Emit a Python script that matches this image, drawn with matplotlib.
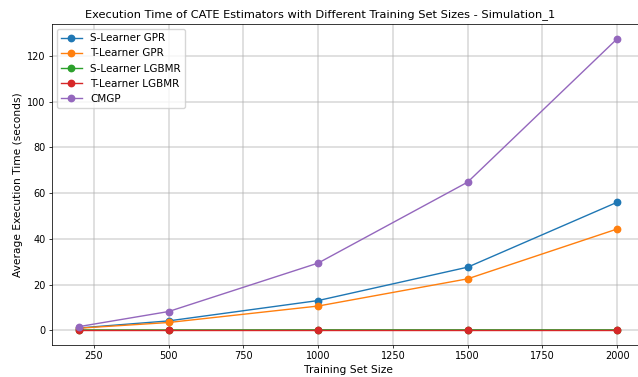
import matplotlib
matplotlib.use("Agg")
import matplotlib.pyplot as plt

sizes = [200, 500, 1000, 1500, 2000]
s_gpr = [1.0, 4.1, 13.0, 27.6, 56.0]
t_gpr = [0.9, 3.4, 10.6, 22.5, 44.3]
s_lgbmr = [0.15, 0.15, 0.2, 0.2, 0.2]
t_lgbmr = [0.1, 0.1, 0.1, 0.1, 0.1]
cmgp = [1.6, 8.2, 29.4, 64.8, 127.5]
labels = ["S-Learner GPR", "T-Learner GPR", "S-Learner LGBMR", "T-Learner LGBMR", "CMGP"]

s = 0.68
fig = plt.figure(figsize=(6.38, 3.77), dpi=100)
ax = fig.add_axes([52/638, 1-344.6/377, (644-52)/638, (344.6-24.3)/377])
for vals, lab in zip([s_gpr, t_gpr, s_lgbmr, t_lgbmr, cmgp], labels):
    ax.plot(sizes, vals, marker="o", label=lab, linewidth=1.0, markersize=4.6)
ax.set_title("Execution Time of CATE Estimators with Different Training Set Sizes - Simulation_1",
             fontsize=8.2, pad=5, x=(320-52)/(644-52))
ax.set_xlabel("Training Set Size", fontsize=7.7, labelpad=2.5)
ax.set_ylabel("Average Execution Time (seconds)", fontsize=7.7, labelpad=3)
ax.tick_params(labelsize=7.0, width=0.8*s, length=3.5*s, pad=3.5*s)
for sp in ax.spines.values():
    sp.set_linewidth(0.8*s)
ax.grid(True, linewidth=1.3, color="#b0b0b0", alpha=0.42)
ax.legend(loc="upper left", fontsize=7.5, borderaxespad=0.45)
fig.savefig("out.png", dpi=100)
